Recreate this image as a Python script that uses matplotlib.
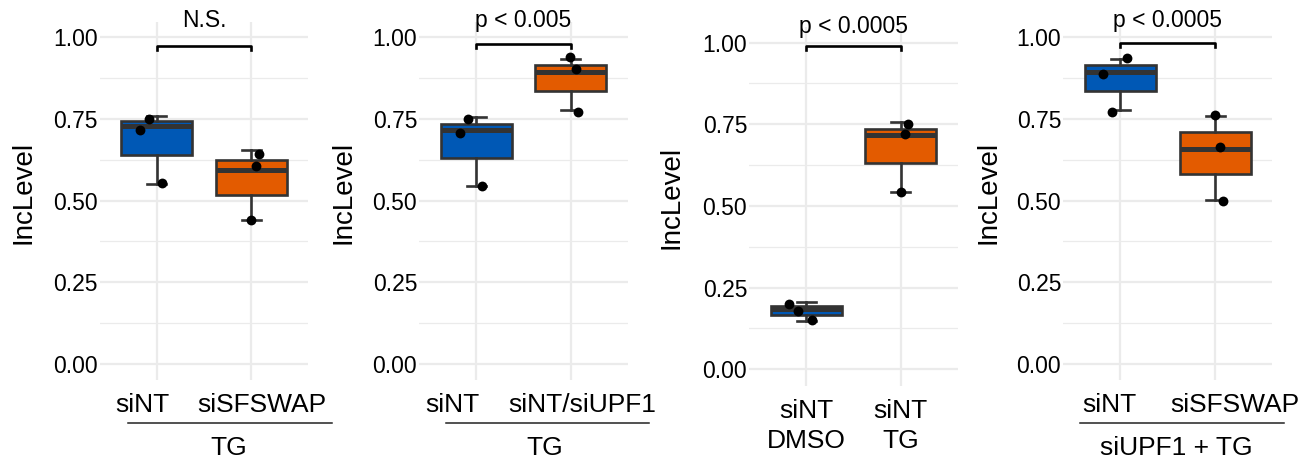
import matplotlib
matplotlib.use("Agg")
import matplotlib.pyplot as plt
import matplotlib.transforms as mtransforms

plt.rcParams['font.family'] = ['Liberation Sans', 'DejaVu Sans']

# box data per panel (min, median, max of 3 replicates)
p1_groups = [[0.551, 0.729, 0.759], [0.439, 0.593, 0.653]]
p2_groups = [[0.544, 0.716, 0.754], [0.778, 0.893, 0.933]]
p3_groups = [[0.149, 0.185, 0.205], [0.543, 0.717, 0.756]]
p4_groups = [[0.778, 0.893, 0.933], [0.503, 0.659, 0.759]]

# jittered points as drawn (y values and x jitter)
p1_pts_y = [[0.716, 0.749, 0.553], [0.642, 0.604, 0.439]]
p1_pts_dx = [[-0.18, -0.08, 0.06], [0.077, 0.05, 0.0]]
p2_pts_y = [[0.707, 0.748, 0.545], [0.938, 0.901, 0.772]]
p2_pts_dx = [[-0.175, -0.087, 0.066], [-0.006, 0.049, 0.078]]
p3_pts_y = [[0.199, 0.179, 0.152], [0.751, 0.721, 0.543]]
p3_pts_dx = [[-0.18, -0.09, 0.06], [0.08, 0.045, 0.0]]
p4_pts_y = [[0.886, 0.937, 0.772], [0.760, 0.664, 0.498]]
p4_pts_dx = [[-0.178, 0.067, -0.084], [0.0, 0.045, 0.076]]

p1_labels = ["siNT", "siSFSWAP"]
p2_labels = ["siNT", "siNT/siUPF1"]
p3_labels = ["siNT\nDMSO", "siNT\nTG"]
p4_labels = ["siNT", "siSFSWAP"]

group_titles = ["TG", "TG", None, "siUPF1 + TG"]
sig_texts = ["N.S.", "p < 0.005", "p < 0.0005", "p < 0.0005"]
sig_bar_y = [0.972, 0.977, 0.99, 0.982]

colors = ["#0058b5", "#e35b00"]
dark = "#333333"
grid_col = "#ebebeb"

W, H = 1312, 462
fig = plt.figure(figsize=(W / 100, H / 100), dpi=100)

# axes boxes in pixels: left, top, right, bottom
ax_px = [(100, 21.6, 308, 380.4),
         (419.3, 21.6, 627.7, 380.4),
         (749.3, 27.3, 957.7, 385.6),
         (1063.3, 21.6, 1272.3, 380.4)]
# tick label x positions (in category units), group line span, group title x
lab_x = [[-0.153, 1.116], [-0.255, 1.118], [0, 1], [-0.118, 1.206]]
line_x = [(-0.305, 1.853), (-0.322, 1.826), None, (-0.42, 1.72)]
title_x = [0.758, 0.724, None, 0.59]
ylab_px = [(23.3, 192.5), (343.3, 192.5), (671.7, 197.5), (988, 192.5)]

groups = [p1_groups, p2_groups, p3_groups, p4_groups]
pts_y = [p1_pts_y, p2_pts_y, p3_pts_y, p4_pts_y]
pts_dx = [p1_pts_dx, p2_pts_dx, p3_pts_dx, p4_pts_dx]
labels = [p1_labels, p2_labels, p3_labels, p4_labels]

for i in range(4):
    l, t, r, b = ax_px[i]
    ax = fig.add_axes([l / W, 1 - b / H, (r - l) / W, (b - t) / H])
    ax.set_xlim(-0.6, 1.6)
    ax.set_ylim(-0.05, 1.047)
    for s in ax.spines.values():
        s.set_visible(False)

    # grid
    for yv in [0, 0.25, 0.5, 0.75, 1.0]:
        ax.axhline(yv, color=grid_col, lw=1.6, zorder=0)
    for yv in [0.125, 0.375, 0.625, 0.875]:
        ax.axhline(yv, color=grid_col, lw=0.9, zorder=0)
    for xv in [0, 1]:
        ax.axvline(xv, color=grid_col, lw=1.6, zorder=0)

    bp = ax.boxplot(groups[i], positions=[0, 1], widths=0.75, whis=(0, 100),
                    patch_artist=True, capwidths=0.2, showfliers=False,
                    medianprops=dict(color=dark, lw=3.6),
                    boxprops=dict(edgecolor=dark, lw=1.9),
                    whiskerprops=dict(color=dark, lw=1.9),
                    capprops=dict(color=dark, lw=1.9), zorder=2)
    for patch, c in zip(bp['boxes'], colors):
        patch.set_facecolor(c)

    for k in range(2):
        xs = [k + d for d in pts_dx[i][k]]
        ax.scatter(xs, pts_y[i][k], s=50, color="black", zorder=4, lw=0)

    # significance bar
    by = sig_bar_y[i]
    ax.plot([0, 0, 1, 1], [by - 0.012, by, by, by - 0.012], color="black",
            lw=1.9, clip_on=False, zorder=5)
    ax.text(0.5, 1.03, sig_texts[i], ha="center", va="baseline",
            fontsize=16.5, clip_on=False)

    ax.set_xticks([0, 1])
    ax.set_xticklabels([])
    ax.set_yticks([0, 0.25, 0.5, 0.75, 1.0])
    ax.set_yticklabels(["0.00", "0.25", "0.50", "0.75", "1.00"])
    ax.tick_params(length=0, labelsize=16.5, pad=1.5, labelcolor="black")

    def below(px):
        return mtransforms.blended_transform_factory(ax.transData, ax.transAxes) + \
            mtransforms.ScaledTranslation(0, -px / 100, fig.dpi_scale_trans)

    for k in range(2):
        lab = labels[i][k]
        # multiline labels anchor on their last line's baseline
        off = 32 + 30 * lab.count("\n")
        ax.text(lab_x[i][k], 0, lab, transform=below(off), ha="center",
                va="baseline", fontsize=19, linespacing=1.3)

    if group_titles[i] is not None:
        x0, x1 = line_x[i]
        ax.plot([x0, x1], [0, 0], transform=below(42.7), color="#222222",
                lw=1.1, clip_on=False)
        ax.text(title_x[i], 0, group_titles[i], transform=below(75),
                ha="center", va="baseline", fontsize=19)

    yx, yy = ylab_px[i]
    fig.text(yx / W, 1 - yy / H, "IncLevel", rotation=90, ha="center",
             va="center", fontsize=20)

fig.savefig("out.png", dpi=100)
